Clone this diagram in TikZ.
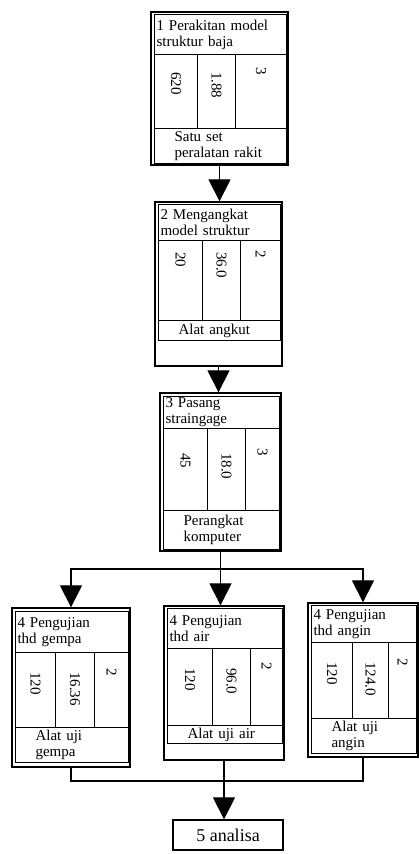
\documentclass[tikz,border=0pt]{standalone}
\usepackage{fontspec}
\setmainfont{Liberation Serif}
\usetikzlibrary{arrows,shapes,positioning,arrows.meta,calc}

\tikzset{
  frame/.style={draw,line width=1.3pt,inner sep=0pt},
  cell/.style={draw,line width=1pt,anchor=north west,inner sep=0pt},
  title/.style={cell,align=left,inner xsep=2pt},
  res/.style={cell,align=left,inner xsep=20pt},
  num/.style={rotate=-90,anchor=west,inner sep=0pt},
  arr/.style={-{Triangle[length=22pt,width=22pt]},line width=1.2pt}
}

\begin{document}
\begin{tikzpicture}[x=1pt,y=-1pt,font=\fontsize{15}{16}\selectfont]
\useasboundingbox (0,0) rectangle (419,854);

\node[frame,minimum width=137,minimum height=153] (b1) at (219.5,88.5) {};
\node[title,text width=128,minimum height=40] (t1) at (154,14) {1 Perakitan model\\struktur baja};
\node[cell,minimum width=43,minimum height=74] (c11) at (154,54) {};
\node[cell,minimum width=38,minimum height=74] (c12) at (197,54) {};
\node[cell,minimum width=51,minimum height=74] (c13) at (235,54) {};
\node[res,text width=92,minimum height=35] (r1) at (154,128) {Satu set\\peralatan rakit};
\node[num] (n11) at ($(c11.north)+(0,18)$) {620};
\node[num] (n12) at ($(c12.north)+(0,18)$) {1.88};
\node[num] (n13) at ($(c13.north)+(0,13)$) {3};

\node[frame,minimum width=127,minimum height=164] (b2) at (218.5,284) {};
\node[title,text width=118,minimum height=36] (t2) at (158,204) {2 Mengangkat\\model struktur};
\node[cell,minimum width=44,minimum height=80] (c21) at (158,240) {};
\node[cell,minimum width=38,minimum height=80] (c22) at (202,240) {};
\node[cell,minimum width=40,minimum height=80] (c23) at (240,240) {};
\node[res,text width=82,minimum height=20] (r2) at (158,320) {Alat angkut};
\node[num] (n21) at ($(c21.north)+(0,12)$) {20};
\node[num] (n22) at ($(c22.north)+(0,12)$) {36.0};
\node[num] (n23) at ($(c23.north)+(0,10)$) {2};

\node[frame,minimum width=121,minimum height=158] (b3) at (220.5,472) {};
\node[title,text width=112,minimum height=32] (t3) at (163,396) {3 Pasang\\straingage};
\node[cell,minimum width=44,minimum height=82] (c31) at (163,428) {};
\node[cell,minimum width=38,minimum height=82] (c32) at (207,428) {};
\node[cell,minimum width=34,minimum height=82] (c33) at (245,428) {};
\node[res,text width=76,minimum height=39] (r3) at (163,510) {Perangkat\\komputer};
\node[num] (n31) at ($(c31.north)+(0,25)$) {45};
\node[num] (n32) at ($(c32.north)+(0,25)$) {18.0};
\node[num] (n33) at ($(c33.north)+(0,20)$) {3};

\node[frame,minimum width=118,minimum height=159] (b4a) at (71,687.5) {};
\node[title,text width=109,minimum height=41] (t4a) at (15,611) {4 Pengujian\\thd gempa};
\node[cell,minimum width=40,minimum height=75] (c41) at (15,652) {};
\node[cell,minimum width=39,minimum height=75] (c42) at (55,652) {};
\node[cell,minimum width=34,minimum height=75] (c43) at (94,652) {};
\node[res,text width=73,minimum height=35] (r4a) at (15,727) {Alat uji\\gempa};
\node[num] (n41) at ($(c41.north)+(0,20)$) {120};
\node[num] (n42) at ($(c42.north)+(0,20)$) {16.36};
\node[num] (n43) at ($(c43.north)+(0,16)$) {2};

\node[frame,minimum width=120,minimum height=154] (b4b) at (224,683) {};
\node[title,text width=111,minimum height=40] (t4b) at (167,608) {4 Pengujian\\thd air};
\node[cell,minimum width=45,minimum height=77] (c44) at (167,648) {};
\node[cell,minimum width=38,minimum height=77] (c45) at (212,648) {};
\node[cell,minimum width=32,minimum height=77] (c46) at (250,648) {};
\node[res,text width=75,minimum height=18] (r4b) at (167,725) {Alat uji air};
\node[num] (n44) at ($(c44.north)+(0,20)$) {120};
\node[num] (n45) at ($(c45.north)+(0,20)$) {96.0};
\node[num] (n46) at ($(c46.north)+(0,14)$) {2};

\node[frame,minimum width=110,minimum height=154] (b4c) at (363,680) {};
\node[title,text width=101,minimum height=37] (t4c) at (311,605) {4 Pengujian\\thd angin};
\node[cell,minimum width=41,minimum height=76] (c47) at (311,642) {};
\node[cell,minimum width=36,minimum height=76] (c48) at (352,642) {};
\node[cell,minimum width=28,minimum height=76] (c49) at (388,642) {};
\node[res,text width=65,minimum height=35] (r4c) at (311,718) {Alat uji\\angin};
\node[num] (n47) at ($(c47.north)+(0,20)$) {120};
\node[num] (n48) at ($(c48.north)+(0,20)$) {124.0};
\node[num] (n49) at ($(c49.north)+(0,16)$) {2};

\node[frame,minimum width=110,minimum height=30,font=\fontsize{18}{20}\selectfont] (b5) at (228,835) {5 analisa};

\draw[arr] (b1.south) -- (b1.south |- b2.north);
\draw[arr] (b2.south) -- (b2.south |- b3.north);
\coordinate (j1) at (b3.south |- 0,569);
\draw[line width=1.2pt] (b3.south) -- (j1);
\draw[arr] (j1) -| (b4a.north);
\draw[arr] (j1) -| (b4c.north);
\draw[arr] (j1) -- (j1 |- b4b.north);
\coordinate (j2) at (b4b.south |- 0,781);
\draw[line width=1.2pt] (b4a.south) |- (j2) -| (b4c.south);
\draw[arr] (b4b.south) -- (b4b.south |- b5.north);
\end{tikzpicture}
\end{document}
